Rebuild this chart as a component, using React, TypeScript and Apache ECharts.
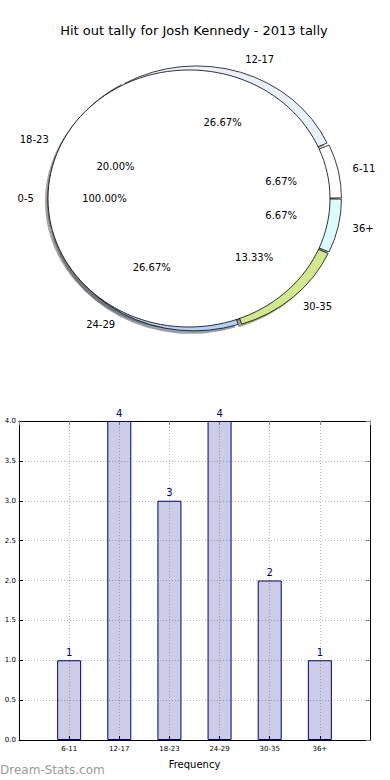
import React, { useEffect, useRef } from 'react';
import * as echarts from 'echarts';

// ---- data ----
const TITLE = 'Hit out tally for Josh Kennedy - 2013 tally';
const ageGroups = ['6-11', '12-17', '18-23', '24-29', '30-35', '36+'];
const tally = [1, 4, 3, 4, 2, 1];
const innerGroups = ['0-5'];
const innerShare = [100];
const yMax = 4;
const yStep = 0.5;
const xAxisName = 'Frequency';
const watermark = 'Dream-Stats.com';

// ---- style ----
const FONT = 'DejaVu Sans';
const ringColors = ['#ffffff', '#e9effc', '#ffffff', '#b3d2fa', '#d1e98b', '#dcfcfc'];
const RING_CX = 195.5;
const RING_CY = 198.5;
const RING_R = 143;
const RING_SY = 130 / 143;
const EXPLODE = 3;
const LABEL_RX = 146;
const LABEL_RY = 132.5;
const IN_CX = 189;
const IN_CY = 198.5;
const IN_RX = 141;
const IN_RY = 128.5;
const SDX = -3;
const SDY = 3;

const total = tally.reduce((a, b) => a + b, 0);
const angles: number[][] = (() => {
  let c = 0;
  return tally.map((v) => {
    const a1 = (c / total) * Math.PI * 2;
    c += v;
    const a2 = (c / total) * Math.PI * 2;
    return [a1, a2];
  });
})();

function shadowOf(hex: string) {
  const r = parseInt(hex.slice(1, 3), 16);
  const g = parseInt(hex.slice(3, 5), 16);
  const b = parseInt(hex.slice(5, 7), 16);
  return `rgba(${Math.round(r * 0.3)},${Math.round(g * 0.3)},${Math.round(b * 0.3)},0.5)`;
}

function wedge(i: number, shadow: boolean) {
  const [a1, a2] = angles[i];
  const mid = (a1 + a2) / 2;
  return {
    type: 'group',
    x: RING_CX + EXPLODE * Math.cos(mid) + (shadow ? SDX : 0),
    y: RING_CY - EXPLODE * Math.sin(mid) * RING_SY + (shadow ? SDY : 0),
    scaleY: RING_SY,
    children: [
      {
        type: 'sector',
        shape: { cx: 0, cy: 0, r0: 0, r: RING_R, startAngle: -a2, endAngle: -a1, clockwise: true },
        style: shadow
          ? { fill: shadowOf(ringColors[i]) }
          : { fill: ringColors[i], stroke: '#000', lineWidth: 0.8, strokeNoScale: true },
      },
    ],
  };
}

export default function App() {
  const ref = useRef<HTMLDivElement>(null);
  useEffect(() => {
    if (!ref.current) return;
    const chart = echarts.init(ref.current, undefined, { renderer: 'svg' });
    const option: any = {
      animation: false,
      backgroundColor: '#ffffff',
      textStyle: { fontFamily: FONT },
      graphic: [
        {
          type: 'text',
          x: 194,
          y: 30,
          style: { text: TITLE, fill: '#000', fontSize: 13, fontFamily: FONT, align: 'center', verticalAlign: 'middle' },
        },
        {
          type: 'text',
          x: 0,
          y: 770,
          style: { text: watermark, fill: '#9a9a9a', fontSize: 12, fontFamily: FONT, align: 'left', verticalAlign: 'middle' },
        },
      ],
      grid: { left: 19, right: 20, top: 421, bottom: 40, show: false },
      xAxis: [
        {
          type: 'value',
          min: 0,
          max: ageGroups.length + 1,
          interval: 1,
          position: 'bottom',
          axisLine: { show: true, onZero: false, lineStyle: { color: '#000', width: 1 } },
          axisTick: { show: true, inside: true, length: 4, lineStyle: { color: '#000' } },
          axisLabel: {
            fontSize: 7,
            color: '#000',
            margin: 5,
            formatter: (v: number) => (v >= 1 && v <= ageGroups.length ? ageGroups[v - 1] : ''),
          },
          splitLine: { show: true, lineStyle: { color: '#b8b8b8', type: [1, 2], width: 1 } },
          name: xAxisName,
          nameLocation: 'middle',
          nameGap: 19,
          nameTextStyle: { fontSize: 10, color: '#000', fontFamily: FONT },
        },
        {
          type: 'value',
          min: 0,
          max: ageGroups.length + 1,
          interval: 1,
          position: 'top',
          axisLine: { show: true, onZero: false, lineStyle: { color: '#000', width: 1 } },
          axisTick: { show: true, inside: true, length: 4, lineStyle: { color: '#888' } },
          axisLabel: { show: false },
          splitLine: { show: false },
        },
      ],
      yAxis: [
        {
          type: 'value',
          min: 0,
          max: yMax,
          interval: yStep,
          axisLine: { show: true, onZero: false, lineStyle: { color: '#000', width: 1 } },
          axisTick: { show: true, inside: true, length: 4, lineStyle: { color: '#000' } },
          axisLabel: { fontSize: 7, color: '#000', margin: 3, formatter: (v: number) => v.toFixed(1) },
          splitLine: { show: true, lineStyle: { color: '#b8b8b8', type: [1, 2], width: 1 } },
        },
        {
          type: 'value',
          min: 0,
          max: yMax,
          interval: yStep,
          position: 'right',
          axisLine: { show: true, onZero: false, lineStyle: { color: '#000', width: 1 } },
          axisTick: { show: true, inside: true, length: 4, lineStyle: { color: '#888' } },
          axisLabel: { show: false },
          splitLine: { show: false },
        },
      ],
      series: [
        {
          type: 'custom',
          coordinateSystem: 'none',
          silent: true,
          z: 1,
          data: tally,
          renderItem: (params: any) => wedge(params.dataIndex, true),
        },
        {
          type: 'custom',
          coordinateSystem: 'none',
          silent: true,
          z: 1,
          data: innerShare,
          renderItem: () => ({
            type: 'ellipse',
            shape: { cx: IN_CX + SDX, cy: IN_CY + SDY, rx: IN_RX, ry: IN_RY },
            style: { fill: 'rgba(77,77,77,0.5)' },
          }),
        },
        {
          type: 'custom',
          coordinateSystem: 'none',
          silent: true,
          z: 2,
          data: tally,
          renderItem: (params: any) => wedge(params.dataIndex, false),
        },
        {
          type: 'custom',
          coordinateSystem: 'none',
          silent: true,
          z: 3,
          data: innerShare,
          renderItem: () => ({
            type: 'ellipse',
            shape: { cx: IN_CX, cy: IN_CY, rx: IN_RX, ry: IN_RY },
            style: { fill: '#ffffff', stroke: '#000', lineWidth: 0.8 },
          }),
        },
        {
          type: 'custom',
          coordinateSystem: 'none',
          silent: true,
          z: 4,
          data: tally,
          renderItem: (params: any, api: any) => {
            const i = params.dataIndex;
            const [a1, a2] = angles[i];
            const mid = (a1 + a2) / 2;
            const c = Math.cos(mid);
            const s = Math.sin(mid);
            const pct = ((api.value(0) / total) * 100).toFixed(2) + '%';
            return {
              type: 'group',
              children: [
                {
                  type: 'text',
                  x: RING_CX + 1.1 * LABEL_RX * c,
                  y: RING_CY - 1.1 * LABEL_RY * s,
                  style: {
                    text: ageGroups[i],
                    fill: '#000',
                    fontSize: 10,
                    fontFamily: FONT,
                    align: c >= 0 ? 'left' : 'right',
                    verticalAlign: 'middle',
                  },
                },
                {
                  type: 'text',
                  x: RING_CX + 0.6 * LABEL_RX * c,
                  y: RING_CY - 0.6 * LABEL_RY * s,
                  style: { text: pct, fill: '#000', fontSize: 10, fontFamily: FONT, align: 'center', verticalAlign: 'middle' },
                },
              ],
            };
          },
        },
        {
          type: 'custom',
          coordinateSystem: 'none',
          silent: true,
          z: 4,
          data: innerShare,
          renderItem: (params: any, api: any) => ({
            type: 'group',
            children: [
              {
                type: 'text',
                x: IN_CX - 1.1 * IN_RX,
                y: IN_CY,
                style: { text: innerGroups[params.dataIndex], fill: '#000', fontSize: 10, fontFamily: FONT, align: 'right', verticalAlign: 'middle' },
              },
              {
                type: 'text',
                x: IN_CX - 0.6 * IN_RX,
                y: IN_CY,
                style: { text: api.value(0).toFixed(2) + '%', fill: '#000', fontSize: 10, fontFamily: FONT, align: 'center', verticalAlign: 'middle' },
              },
            ],
          }),
        },
        {
          type: 'bar',
          xAxisIndex: 0,
          yAxisIndex: 0,
          z: 2,
          data: ageGroups.map((g, i) => [i + 1, tally[i]]),
          barWidth: 24,
          itemStyle: { color: 'rgba(0,0,128,0.2)', borderColor: '#000080', borderWidth: 1 },
          label: {
            show: true,
            position: 'top',
            distance: 3,
            color: '#000080',
            fontSize: 10,
            fontFamily: FONT,
            formatter: (p: any) => String(p.value[1]),
          },
        },
      ],
    };
    chart.setOption(option);
    return () => chart.dispose();
  }, []);
  return <div ref={ref} style={{ position: 'fixed', left: 0, top: 0, width: 390, height: 780 }} />;
}
